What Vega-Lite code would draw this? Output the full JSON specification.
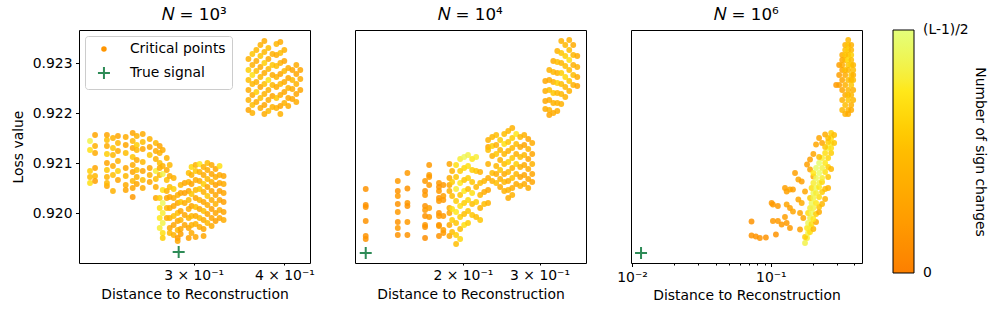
{
"$schema": "https://vega.github.io/schema/vega-lite/v6.json",
"padding": {"left": 10, "top": 6, "right": 5, "bottom": 5},
"config": {
  "font": "DejaVu Sans",
  "view": {"stroke": "black", "strokeWidth": 1},
  "axis": {"domain": false, "grid": false, "labelFont": "DejaVu Sans", "titleFont": "DejaVu Sans", "labelFontSize": 13.9, "titleFontSize": 13.9, "titleFontWeight": "normal", "labelColor": "black", "titleColor": "black", "tickColor": "black", "tickWidth": 1, "tickSize": 3.5, "labelPadding": 3.5, "titlePadding": 5, "labelOverlap": false, "labelFlush": false, "labelBound": false},
  "title": {"font": "DejaVu Sans", "fontSize": 16.7, "fontWeight": "normal", "color": "black", "offset": 6},
  "legend": {"labelFont": "DejaVu Sans", "titleFont": "DejaVu Sans", "labelColor": "black", "titleColor": "black"}
},
"datasets": {
"d1": [
{"x":0.2160,"y":0.92144,"c":0.85},{"x":0.2160,"y":0.92126,"c":0.7},{"x":0.2160,"y":0.92084,"c":0.6},{"x":0.2160,"y":0.92072,"c":0.5},{"x":0.2160,"y":0.9206,"c":0.7},
{"x":0.2195,"y":0.92156,"c":0.3},{"x":0.2195,"y":0.92134,"c":0.4},{"x":0.2195,"y":0.9212,"c":0.35},{"x":0.2195,"y":0.9209,"c":0.3},{"x":0.2195,"y":0.92074,"c":0.45},{"x":0.2195,"y":0.92064,"c":0.25},
{"x":0.2279,"y":0.92156,"c":0.3},{"x":0.2279,"y":0.92146,"c":0.5},{"x":0.2279,"y":0.92134,"c":0.35},{"x":0.2279,"y":0.92118,"c":0.6},{"x":0.2279,"y":0.921,"c":0.3},{"x":0.2279,"y":0.92086,"c":0.55},{"x":0.2279,"y":0.92072,"c":0.4},{"x":0.2279,"y":0.92054,"c":0.3},{"x":0.2279,"y":0.9206,"c":0.45},
{"x":0.2323,"y":0.9215,"c":0.4},{"x":0.2323,"y":0.9213,"c":0.55},{"x":0.2323,"y":0.92116,"c":0.45},{"x":0.2323,"y":0.92094,"c":0.35},{"x":0.2323,"y":0.92076,"c":0.5},{"x":0.2323,"y":0.92044,"c":0.4},
{"x":0.2360,"y":0.92154,"c":0.3},{"x":0.2360,"y":0.9214,"c":0.45},{"x":0.2360,"y":0.92124,"c":0.35},{"x":0.2360,"y":0.92104,"c":0.4},{"x":0.2360,"y":0.92084,"c":0.6},{"x":0.2360,"y":0.92066,"c":0.3},
{"x":0.2419,"y":0.92152,"c":0.35},{"x":0.2419,"y":0.92136,"c":0.3},{"x":0.2419,"y":0.9212,"c":0.5},{"x":0.2419,"y":0.9209,"c":0.3},{"x":0.2419,"y":0.92074,"c":0.45},{"x":0.2419,"y":0.92056,"c":0.35},{"x":0.2419,"y":0.92046,"c":0.3},
{"x":0.2473,"y":0.9216,"c":0.3},{"x":0.2473,"y":0.92144,"c":0.45},{"x":0.2473,"y":0.9213,"c":0.3},{"x":0.2473,"y":0.92112,"c":0.55},{"x":0.2473,"y":0.92096,"c":0.35},{"x":0.2473,"y":0.92082,"c":0.3},{"x":0.2473,"y":0.92064,"c":0.45},{"x":0.2473,"y":0.9205,"c":0.3},{"x":0.2473,"y":0.92032,"c":0.2},
{"x":0.2505,"y":0.92154,"c":0.4},{"x":0.2505,"y":0.92136,"c":0.6},{"x":0.2505,"y":0.92126,"c":0.45},{"x":0.2505,"y":0.92106,"c":0.35},{"x":0.2505,"y":0.92086,"c":0.5},{"x":0.2505,"y":0.92072,"c":0.4},{"x":0.2505,"y":0.92058,"c":0.3},
{"x":0.2553,"y":0.92158,"c":0.35},{"x":0.2553,"y":0.92142,"c":0.5},{"x":0.2553,"y":0.92128,"c":0.3},{"x":0.2553,"y":0.92102,"c":0.45},{"x":0.2553,"y":0.92084,"c":0.3},{"x":0.2553,"y":0.92066,"c":0.5},{"x":0.2553,"y":0.9205,"c":0.35},
{"x":0.2610,"y":0.92148,"c":0.4},{"x":0.2610,"y":0.92132,"c":0.3},{"x":0.2610,"y":0.92116,"c":0.55},{"x":0.2610,"y":0.9209,"c":0.3},{"x":0.2610,"y":0.92076,"c":0.4},{"x":0.2610,"y":0.92062,"c":0.3},
{"x":0.2661,"y":0.9214,"c":0.45},{"x":0.2661,"y":0.92124,"c":0.35},{"x":0.2661,"y":0.92108,"c":0.4},{"x":0.2661,"y":0.92084,"c":0.8},{"x":0.2661,"y":0.92068,"c":0.5},{"x":0.2661,"y":0.92052,"c":0.35},{"x":0.2661,"y":0.9203,"c":0.3},
{"x":0.2694,"y":0.92134,"c":0.3},{"x":0.2694,"y":0.9212,"c":0.4},{"x":0.2694,"y":0.921,"c":0.5},{"x":0.2694,"y":0.9209,"c":0.35},{"x":0.2694,"y":0.92076,"c":0.45},{"x":0.2694,"y":0.9203,"c":0.6},{"x":0.2694,"y":0.9201,"c":0.7},{"x":0.2694,"y":0.9199,"c":0.75},{"x":0.2694,"y":0.9197,"c":0.8},
{"x":0.2720,"y":0.92126,"c":0.35},{"x":0.2720,"y":0.92094,"c":0.4},{"x":0.2720,"y":0.92078,"c":0.85},{"x":0.2720,"y":0.92046,"c":0.7},{"x":0.2720,"y":0.9202,"c":0.9},{"x":0.2720,"y":0.92,"c":0.8},{"x":0.2720,"y":0.9198,"c":0.85},{"x":0.2720,"y":0.9196,"c":0.7},{"x":0.2720,"y":0.9195,"c":0.6},
{"x":0.2755,"y":0.9211,"c":0.4},{"x":0.2755,"y":0.92086,"c":0.35},{"x":0.2755,"y":0.92066,"c":0.5},{"x":0.2755,"y":0.92044,"c":0.4},{"x":0.2755,"y":0.9203,"c":0.3},{"x":0.2755,"y":0.9201,"c":0.45},{"x":0.2755,"y":0.9199,"c":0.35},
{"x":0.2781,"y":0.92096,"c":0.45},{"x":0.2781,"y":0.92074,"c":0.35},{"x":0.2781,"y":0.92052,"c":0.5},{"x":0.2781,"y":0.92032,"c":0.3},{"x":0.2781,"y":0.9201,"c":0.35},{"x":0.2781,"y":0.9199,"c":0.4},{"x":0.2781,"y":0.9197,"c":0.3},{"x":0.2781,"y":0.9196,"c":0.45},
{"x":0.2816,"y":0.9207,"c":0.4},{"x":0.2816,"y":0.92048,"c":0.6},{"x":0.2816,"y":0.9203,"c":0.35},{"x":0.2816,"y":0.92014,"c":0.3},{"x":0.2816,"y":0.91994,"c":0.5},{"x":0.2816,"y":0.91976,"c":0.3},{"x":0.2816,"y":0.91956,"c":0.4},
{"x":0.2852,"y":0.92036,"c":0.4},{"x":0.2852,"y":0.9202,"c":0.3},{"x":0.2852,"y":0.92,"c":0.5},{"x":0.2852,"y":0.91984,"c":0.3},{"x":0.2852,"y":0.91966,"c":0.45},{"x":0.2852,"y":0.9195,"c":0.2},{"x":0.2852,"y":0.91944,"c":0.3},
{"x":0.2879,"y":0.92056,"c":0.45},{"x":0.2879,"y":0.9204,"c":0.3},{"x":0.2879,"y":0.92022,"c":0.55},{"x":0.2879,"y":0.92004,"c":0.3},{"x":0.2879,"y":0.91986,"c":0.4},{"x":0.2879,"y":0.91968,"c":0.3},{"x":0.2879,"y":0.91958,"c":0.25},
{"x":0.2916,"y":0.9206,"c":0.3},{"x":0.2916,"y":0.9204,"c":0.25},{"x":0.2916,"y":0.9202,"c":0.35},{"x":0.2916,"y":0.91996,"c":0.3},{"x":0.2916,"y":0.91976,"c":0.3},
{"x":0.2953,"y":0.9208,"c":0.5},{"x":0.2953,"y":0.92062,"c":0.4},{"x":0.2953,"y":0.92044,"c":0.3},{"x":0.2953,"y":0.92026,"c":0.45},{"x":0.2953,"y":0.92008,"c":0.35},{"x":0.2953,"y":0.9199,"c":0.4},{"x":0.2953,"y":0.9197,"c":0.3},{"x":0.2953,"y":0.9195,"c":0.25},
{"x":0.2980,"y":0.92092,"c":0.65},{"x":0.2980,"y":0.92076,"c":0.4},{"x":0.2980,"y":0.92058,"c":0.3},{"x":0.2980,"y":0.92038,"c":0.55},{"x":0.2980,"y":0.92014,"c":0.3},{"x":0.2980,"y":0.91994,"c":0.45},{"x":0.2980,"y":0.91976,"c":0.4},{"x":0.2980,"y":0.9196,"c":0.35},
{"x":0.3019,"y":0.92096,"c":0.4},{"x":0.3019,"y":0.92084,"c":0.55},{"x":0.3019,"y":0.92066,"c":0.35},{"x":0.3019,"y":0.92046,"c":0.45},{"x":0.3019,"y":0.9203,"c":0.3},{"x":0.3019,"y":0.92012,"c":0.5},{"x":0.3019,"y":0.91994,"c":0.35},{"x":0.3019,"y":0.91978,"c":0.4},{"x":0.3019,"y":0.91952,"c":0.3},
{"x":0.3057,"y":0.92098,"c":0.75},{"x":0.3057,"y":0.92082,"c":0.4},{"x":0.3057,"y":0.92064,"c":0.35},{"x":0.3057,"y":0.92048,"c":0.55},{"x":0.3057,"y":0.92026,"c":0.4},{"x":0.3057,"y":0.92008,"c":0.3},{"x":0.3057,"y":0.9199,"c":0.45},{"x":0.3057,"y":0.91972,"c":0.35},
{"x":0.3096,"y":0.92092,"c":0.4},{"x":0.3096,"y":0.92076,"c":0.35},{"x":0.3096,"y":0.92058,"c":0.6},{"x":0.3096,"y":0.92042,"c":0.4},{"x":0.3096,"y":0.92022,"c":0.3},{"x":0.3096,"y":0.92004,"c":0.5},{"x":0.3096,"y":0.91986,"c":0.35},{"x":0.3096,"y":0.91968,"c":0.3},{"x":0.3096,"y":0.91954,"c":0.3},
{"x":0.3134,"y":0.921,"c":0.5},{"x":0.3134,"y":0.92086,"c":0.35},{"x":0.3134,"y":0.92068,"c":0.45},{"x":0.3134,"y":0.92052,"c":0.3},{"x":0.3134,"y":0.92034,"c":0.55},{"x":0.3134,"y":0.92016,"c":0.35},{"x":0.3134,"y":0.91998,"c":0.3},{"x":0.3134,"y":0.9198,"c":0.45},
{"x":0.3176,"y":0.92096,"c":0.35},{"x":0.3176,"y":0.92078,"c":0.3},{"x":0.3176,"y":0.92062,"c":0.4},{"x":0.3176,"y":0.92044,"c":0.3},{"x":0.3176,"y":0.92026,"c":0.35},{"x":0.3176,"y":0.92008,"c":0.25},{"x":0.3176,"y":0.9199,"c":0.3},{"x":0.3176,"y":0.91974,"c":0.35},
{"x":0.3216,"y":0.92088,"c":0.3},{"x":0.3216,"y":0.92072,"c":0.35},{"x":0.3216,"y":0.92056,"c":0.25},{"x":0.3216,"y":0.92036,"c":0.3},{"x":0.3216,"y":0.92018,"c":0.4},{"x":0.3216,"y":0.92,"c":0.3},{"x":0.3216,"y":0.91984,"c":0.25},
{"x":0.3257,"y":0.92094,"c":0.7},{"x":0.3257,"y":0.92076,"c":0.35},{"x":0.3257,"y":0.9206,"c":0.3},{"x":0.3257,"y":0.92044,"c":0.25},{"x":0.3257,"y":0.92026,"c":0.3},{"x":0.3257,"y":0.92006,"c":0.35},{"x":0.3257,"y":0.9199,"c":0.3},
{"x":0.3299,"y":0.92074,"c":0.3},{"x":0.3299,"y":0.92058,"c":0.35},{"x":0.3299,"y":0.9204,"c":0.3},{"x":0.3299,"y":0.92022,"c":0.25},{"x":0.3299,"y":0.92002,"c":0.3},{"x":0.3299,"y":0.91986,"c":0.35},
{"x":0.3569,"y":0.92308,"c":0.4},{"x":0.3569,"y":0.92286,"c":0.6},{"x":0.3569,"y":0.92266,"c":0.5},{"x":0.3569,"y":0.92246,"c":0.35},{"x":0.3569,"y":0.92226,"c":0.4},{"x":0.3569,"y":0.92206,"c":0.3},
{"x":0.3614,"y":0.92318,"c":0.55},{"x":0.3614,"y":0.92296,"c":0.4},{"x":0.3614,"y":0.92276,"c":0.7},{"x":0.3614,"y":0.92258,"c":0.45},{"x":0.3614,"y":0.92236,"c":0.35},{"x":0.3614,"y":0.92216,"c":0.5},{"x":0.3614,"y":0.922,"c":0.4},
{"x":0.3660,"y":0.92326,"c":0.45},{"x":0.3660,"y":0.92304,"c":0.35},{"x":0.3660,"y":0.92284,"c":0.5},{"x":0.3660,"y":0.92262,"c":0.4},{"x":0.3660,"y":0.92242,"c":0.6},{"x":0.3660,"y":0.92222,"c":0.35},
{"x":0.3707,"y":0.92336,"c":0.4},{"x":0.3707,"y":0.92314,"c":0.55},{"x":0.3707,"y":0.92292,"c":0.35},{"x":0.3707,"y":0.92272,"c":0.45},{"x":0.3707,"y":0.92252,"c":0.3},{"x":0.3707,"y":0.9223,"c":0.5},{"x":0.3707,"y":0.9221,"c":0.35},
{"x":0.3754,"y":0.92344,"c":0.35},{"x":0.3754,"y":0.92322,"c":0.45},{"x":0.3754,"y":0.923,"c":0.6},{"x":0.3754,"y":0.9228,"c":0.35},{"x":0.3754,"y":0.92258,"c":0.5},{"x":0.3754,"y":0.92238,"c":0.4},{"x":0.3754,"y":0.92216,"c":0.3},{"x":0.3754,"y":0.92198,"c":0.35},
{"x":0.3802,"y":0.9233,"c":0.5},{"x":0.3802,"y":0.92308,"c":0.35},{"x":0.3802,"y":0.92288,"c":0.45},{"x":0.3802,"y":0.92266,"c":0.7},{"x":0.3802,"y":0.92246,"c":0.4},{"x":0.3802,"y":0.92226,"c":0.35},{"x":0.3802,"y":0.92204,"c":0.45},
{"x":0.3851,"y":0.92318,"c":0.4},{"x":0.3851,"y":0.92296,"c":0.55},{"x":0.3851,"y":0.92276,"c":0.35},{"x":0.3851,"y":0.92256,"c":0.45},{"x":0.3851,"y":0.92234,"c":0.3},{"x":0.3851,"y":0.92212,"c":0.4},
{"x":0.3900,"y":0.92338,"c":0.45},{"x":0.3900,"y":0.92316,"c":0.35},{"x":0.3900,"y":0.92294,"c":0.5},{"x":0.3900,"y":0.92272,"c":0.4},{"x":0.3900,"y":0.92252,"c":0.35},{"x":0.3900,"y":0.9223,"c":0.55},{"x":0.3900,"y":0.9221,"c":0.4},
{"x":0.3949,"y":0.92342,"c":0.35},{"x":0.3949,"y":0.9232,"c":0.5},{"x":0.3949,"y":0.923,"c":0.4},{"x":0.3949,"y":0.92278,"c":0.3},{"x":0.3949,"y":0.92258,"c":0.45},{"x":0.3949,"y":0.92236,"c":0.35},{"x":0.3949,"y":0.92214,"c":0.3},{"x":0.3949,"y":0.92198,"c":0.4},
{"x":0.3999,"y":0.92326,"c":0.4},{"x":0.3999,"y":0.92304,"c":0.3},{"x":0.3999,"y":0.92284,"c":0.45},{"x":0.3999,"y":0.92262,"c":0.35},{"x":0.3999,"y":0.92242,"c":0.3},{"x":0.3999,"y":0.9222,"c":0.4},
{"x":0.4049,"y":0.9229,"c":0.35},{"x":0.4049,"y":0.9227,"c":0.3},{"x":0.4049,"y":0.9225,"c":0.4},{"x":0.4049,"y":0.9223,"c":0.3},{"x":0.4049,"y":0.92214,"c":0.35},
{"x":0.4102,"y":0.92286,"c":0.3},{"x":0.4102,"y":0.92266,"c":0.45},{"x":0.4102,"y":0.92248,"c":0.35},{"x":0.4102,"y":0.92228,"c":0.3},
{"x":0.4154,"y":0.92296,"c":0.35},{"x":0.4154,"y":0.92278,"c":0.3},{"x":0.4154,"y":0.92258,"c":0.4},{"x":0.4154,"y":0.92238,"c":0.3},{"x":0.4154,"y":0.92222,"c":0.35},
{"x":0.4207,"y":0.92286,"c":0.3},{"x":0.4207,"y":0.92268,"c":0.35},{"x":0.4207,"y":0.92246,"c":0.3}
],
"d2": [
{"x":0.1197,"y":0.92048,"c":0.15},{"x":0.1197,"y":0.92016,"c":0.15},{"x":0.1197,"y":0.92012,"c":0.15},{"x":0.1197,"y":0.91984,"c":0.15},{"x":0.1197,"y":0.91954,"c":0.15},{"x":0.1197,"y":0.91948,"c":0.15},
{"x":0.1418,"y":0.92064,"c":0.2},{"x":0.1418,"y":0.92044,"c":0.15},{"x":0.1418,"y":0.92034,"c":0.2},{"x":0.1418,"y":0.92018,"c":0.15},{"x":0.1418,"y":0.92002,"c":0.2},{"x":0.1418,"y":0.91982,"c":0.15},{"x":0.1418,"y":0.9197,"c":0.2},{"x":0.1418,"y":0.91956,"c":0.15},
{"x":0.1492,"y":0.9208,"c":0.2},{"x":0.1492,"y":0.92049,"c":0.15},{"x":0.1492,"y":0.9202,"c":0.2},{"x":0.1492,"y":0.92014,"c":0.15},{"x":0.1492,"y":0.91982,"c":0.2},{"x":0.1492,"y":0.91956,"c":0.15},
{"x":0.1638,"y":0.92064,"c":0.2},{"x":0.1638,"y":0.92044,"c":0.15},{"x":0.1638,"y":0.92036,"c":0.2},{"x":0.1638,"y":0.92014,"c":0.15},{"x":0.1638,"y":0.92006,"c":0.2},{"x":0.1638,"y":0.91994,"c":0.15},{"x":0.1638,"y":0.91976,"c":0.2},{"x":0.1638,"y":0.91972,"c":0.15},{"x":0.1638,"y":0.9195,"c":0.1},
{"x":0.1674,"y":0.92096,"c":0.2},{"x":0.1674,"y":0.92076,"c":0.25},{"x":0.1674,"y":0.92072,"c":0.2},{"x":0.1674,"y":0.92056,"c":0.2},{"x":0.1674,"y":0.9201,"c":0.25},{"x":0.1674,"y":0.91992,"c":0.2},
{"x":0.1763,"y":0.9206,"c":0.2},{"x":0.1763,"y":0.92052,"c":0.15},{"x":0.1763,"y":0.92044,"c":0.2},{"x":0.1763,"y":0.9203,"c":0.15},{"x":0.1763,"y":0.92024,"c":0.2},{"x":0.1763,"y":0.92,"c":0.15},{"x":0.1763,"y":0.91994,"c":0.2},{"x":0.1763,"y":0.91976,"c":0.15},{"x":0.1763,"y":0.91974,"c":0.2},{"x":0.1763,"y":0.91954,"c":0.15},
{"x":0.1804,"y":0.92056,"c":0.2},{"x":0.1804,"y":0.92034,"c":0.25},{"x":0.1804,"y":0.92026,"c":0.2},{"x":0.1804,"y":0.91994,"c":0.2},{"x":0.1804,"y":0.91966,"c":0.25},{"x":0.1804,"y":0.9196,"c":0.2},
{"x":0.1863,"y":0.92098,"c":0.3},{"x":0.1863,"y":0.9207,"c":0.35},{"x":0.1863,"y":0.92056,"c":0.3},{"x":0.1863,"y":0.92044,"c":0.4},{"x":0.1863,"y":0.9201,"c":0.35},{"x":0.1863,"y":0.92,"c":0.3},{"x":0.1863,"y":0.91976,"c":0.35},{"x":0.1863,"y":0.91954,"c":0.3},
{"x":0.1890,"y":0.92084,"c":0.4},{"x":0.1890,"y":0.92062,"c":0.6},{"x":0.1890,"y":0.92034,"c":0.5},{"x":0.1890,"y":0.92008,"c":0.7},{"x":0.1890,"y":0.91986,"c":0.6},{"x":0.1890,"y":0.91962,"c":0.5},
{"x":0.1930,"y":0.92096,"c":0.7},{"x":0.1930,"y":0.92072,"c":0.55},{"x":0.1930,"y":0.92048,"c":0.8},{"x":0.1930,"y":0.92024,"c":0.6},{"x":0.1930,"y":0.92002,"c":0.75},{"x":0.1930,"y":0.9198,"c":0.55},{"x":0.1930,"y":0.91956,"c":0.6},{"x":0.1930,"y":0.91938,"c":0.5},
{"x":0.1972,"y":0.92108,"c":0.8},{"x":0.1972,"y":0.92084,"c":0.6},{"x":0.1972,"y":0.9206,"c":0.75},{"x":0.1972,"y":0.92036,"c":0.55},{"x":0.1972,"y":0.92014,"c":0.7},{"x":0.1972,"y":0.91992,"c":0.6},{"x":0.1972,"y":0.91968,"c":0.5},{"x":0.1972,"y":0.91948,"c":0.65},
{"x":0.2014,"y":0.92112,"c":0.9},{"x":0.2014,"y":0.9209,"c":0.65},{"x":0.2014,"y":0.92066,"c":0.55},{"x":0.2014,"y":0.92044,"c":0.75},{"x":0.2014,"y":0.9202,"c":0.6},{"x":0.2014,"y":0.91998,"c":0.5},{"x":0.2014,"y":0.91976,"c":0.7},
{"x":0.2056,"y":0.92116,"c":0.85},{"x":0.2056,"y":0.92094,"c":0.7},{"x":0.2056,"y":0.9207,"c":0.6},{"x":0.2056,"y":0.92048,"c":0.5},{"x":0.2056,"y":0.92026,"c":0.65},{"x":0.2056,"y":0.92004,"c":0.55},{"x":0.2056,"y":0.9198,"c":0.6},
{"x":0.2101,"y":0.92108,"c":0.75},{"x":0.2101,"y":0.92086,"c":0.6},{"x":0.2101,"y":0.92062,"c":0.55},{"x":0.2101,"y":0.9204,"c":0.7},{"x":0.2101,"y":0.92018,"c":0.5},{"x":0.2101,"y":0.91996,"c":0.55},
{"x":0.2146,"y":0.92112,"c":0.8},{"x":0.2146,"y":0.92084,"c":0.55},{"x":0.2146,"y":0.92052,"c":0.45},{"x":0.2146,"y":0.92022,"c":0.6},{"x":0.2146,"y":0.91992,"c":0.5},
{"x":0.2192,"y":0.92082,"c":0.4},{"x":0.2192,"y":0.9206,"c":0.5},{"x":0.2192,"y":0.92036,"c":0.45},{"x":0.2192,"y":0.9201,"c":0.4},{"x":0.2192,"y":0.91986,"c":0.55},
{"x":0.2239,"y":0.92064,"c":0.45},{"x":0.2239,"y":0.92042,"c":0.35},{"x":0.2239,"y":0.92018,"c":0.5},
{"x":0.2286,"y":0.92132,"c":0.3},{"x":0.2286,"y":0.92098,"c":0.4},{"x":0.2286,"y":0.9207,"c":0.35},{"x":0.2286,"y":0.92046,"c":0.3},{"x":0.2286,"y":0.9202,"c":0.4},{"x":0.2286,"y":0.92146,"c":0.4},{"x":0.2286,"y":0.92126,"c":0.5},
{"x":0.2336,"y":0.92152,"c":0.45},{"x":0.2336,"y":0.92134,"c":0.6},{"x":0.2336,"y":0.92114,"c":0.4},{"x":0.2336,"y":0.9208,"c":0.5},{"x":0.2336,"y":0.92064,"c":0.4},
{"x":0.2386,"y":0.92156,"c":0.5},{"x":0.2386,"y":0.92136,"c":0.4},{"x":0.2386,"y":0.92118,"c":0.55},{"x":0.2386,"y":0.92094,"c":0.45},{"x":0.2386,"y":0.92078,"c":0.35},{"x":0.2386,"y":0.9206,"c":0.5},
{"x":0.2436,"y":0.92146,"c":0.6},{"x":0.2436,"y":0.92126,"c":0.45},{"x":0.2436,"y":0.92106,"c":0.4},{"x":0.2436,"y":0.92086,"c":0.55},{"x":0.2436,"y":0.92068,"c":0.4},{"x":0.2436,"y":0.92052,"c":0.35},
{"x":0.2489,"y":0.92158,"c":0.5},{"x":0.2489,"y":0.92138,"c":0.7},{"x":0.2489,"y":0.92118,"c":0.45},{"x":0.2489,"y":0.92098,"c":0.5},{"x":0.2489,"y":0.92078,"c":0.35},{"x":0.2489,"y":0.92062,"c":0.45},{"x":0.2489,"y":0.92044,"c":0.4},
{"x":0.2542,"y":0.92164,"c":0.45},{"x":0.2542,"y":0.92142,"c":0.55},{"x":0.2542,"y":0.92124,"c":0.4},{"x":0.2542,"y":0.92102,"c":0.6},{"x":0.2542,"y":0.92082,"c":0.45},{"x":0.2542,"y":0.92064,"c":0.35},{"x":0.2542,"y":0.92046,"c":0.4},{"x":0.2542,"y":0.9203,"c":0.35},
{"x":0.2597,"y":0.9217,"c":0.4},{"x":0.2597,"y":0.9215,"c":0.6},{"x":0.2597,"y":0.9213,"c":0.45},{"x":0.2597,"y":0.9211,"c":0.55},{"x":0.2597,"y":0.9209,"c":0.4},{"x":0.2597,"y":0.9207,"c":0.5},{"x":0.2597,"y":0.9205,"c":0.35},{"x":0.2597,"y":0.92036,"c":0.4},
{"x":0.2652,"y":0.92158,"c":0.75},{"x":0.2652,"y":0.92138,"c":0.5},{"x":0.2652,"y":0.92118,"c":0.4},{"x":0.2652,"y":0.92098,"c":0.6},{"x":0.2652,"y":0.92078,"c":0.45},{"x":0.2652,"y":0.92058,"c":0.35},
{"x":0.2709,"y":0.92152,"c":0.45},{"x":0.2709,"y":0.92132,"c":0.35},{"x":0.2709,"y":0.92112,"c":0.5},{"x":0.2709,"y":0.92092,"c":0.4},{"x":0.2709,"y":0.92072,"c":0.3},{"x":0.2709,"y":0.92054,"c":0.4},
{"x":0.2767,"y":0.92156,"c":0.4},{"x":0.2767,"y":0.92136,"c":0.3},{"x":0.2767,"y":0.92116,"c":0.45},{"x":0.2767,"y":0.92096,"c":0.35},{"x":0.2767,"y":0.92076,"c":0.3},{"x":0.2767,"y":0.92058,"c":0.35},
{"x":0.2826,"y":0.92148,"c":0.3},{"x":0.2826,"y":0.92128,"c":0.4},{"x":0.2826,"y":0.92108,"c":0.3},{"x":0.2826,"y":0.92088,"c":0.35},{"x":0.2826,"y":0.92068,"c":0.3},{"x":0.2826,"y":0.9205,"c":0.35},
{"x":0.2886,"y":0.9214,"c":0.35},{"x":0.2886,"y":0.92118,"c":0.3},{"x":0.2886,"y":0.92098,"c":0.4},{"x":0.2886,"y":0.92078,"c":0.3},{"x":0.2886,"y":0.92062,"c":0.3},
{"x":0.3092,"y":0.92264,"c":0.3},{"x":0.3092,"y":0.92244,"c":0.35},{"x":0.3092,"y":0.92224,"c":0.3},{"x":0.3092,"y":0.92208,"c":0.35},
{"x":0.3158,"y":0.92286,"c":0.4},{"x":0.3158,"y":0.92266,"c":0.35},{"x":0.3158,"y":0.92246,"c":0.5},{"x":0.3158,"y":0.92226,"c":0.35},{"x":0.3158,"y":0.92206,"c":0.4},{"x":0.3158,"y":0.92196,"c":0.3},
{"x":0.3226,"y":0.92304,"c":0.35},{"x":0.3226,"y":0.92282,"c":0.45},{"x":0.3226,"y":0.92262,"c":0.4},{"x":0.3226,"y":0.9224,"c":0.55},{"x":0.3226,"y":0.9222,"c":0.4},{"x":0.3226,"y":0.922,"c":0.35},
{"x":0.3295,"y":0.92324,"c":0.4},{"x":0.3295,"y":0.92302,"c":0.5},{"x":0.3295,"y":0.9228,"c":0.4},{"x":0.3295,"y":0.9226,"c":0.6},{"x":0.3295,"y":0.9224,"c":0.45},{"x":0.3295,"y":0.9222,"c":0.4},{"x":0.3295,"y":0.92204,"c":0.35},
{"x":0.3365,"y":0.92344,"c":0.4},{"x":0.3365,"y":0.9232,"c":0.55},{"x":0.3365,"y":0.923,"c":0.45},{"x":0.3365,"y":0.9228,"c":0.6},{"x":0.3365,"y":0.92258,"c":0.5},{"x":0.3365,"y":0.92238,"c":0.45},{"x":0.3365,"y":0.92218,"c":0.4},
{"x":0.3437,"y":0.92336,"c":0.45},{"x":0.3437,"y":0.92314,"c":0.6},{"x":0.3437,"y":0.92294,"c":0.5},{"x":0.3437,"y":0.92272,"c":0.65},{"x":0.3437,"y":0.92252,"c":0.45},{"x":0.3437,"y":0.92232,"c":0.4},
{"x":0.3510,"y":0.92346,"c":0.4},{"x":0.3510,"y":0.92326,"c":0.5},{"x":0.3510,"y":0.92306,"c":0.7},{"x":0.3510,"y":0.92286,"c":0.5},{"x":0.3510,"y":0.92264,"c":0.55},{"x":0.3510,"y":0.92244,"c":0.4},
{"x":0.3585,"y":0.92336,"c":0.35},{"x":0.3585,"y":0.92316,"c":0.45},{"x":0.3585,"y":0.92296,"c":0.4},{"x":0.3585,"y":0.92276,"c":0.5},{"x":0.3585,"y":0.92256,"c":0.4},
{"x":0.3662,"y":0.92314,"c":0.35},{"x":0.3662,"y":0.92292,"c":0.4},{"x":0.3662,"y":0.92272,"c":0.35},{"x":0.3662,"y":0.92254,"c":0.3}
],
"d3": [
{"x":0.07253,"y":0.91983,"c":0.15},{"x":0.07253,"y":0.91955,"c":0.15},{"x":0.0779,"y":0.91953,"c":0.15},{"x":0.08327,"y":0.9195,"c":0.15},{"x":0.09203,"y":0.91951,"c":0.15},{"x":0.1087,"y":0.91957,"c":0.15},
{"x":0.1012,"y":0.9202,"c":0.2},{"x":0.1034,"y":0.92017,"c":0.2},{"x":0.1123,"y":0.92014,"c":0.2},{"x":0.1034,"y":0.91984,"c":0.2},{"x":0.1123,"y":0.91984,"c":0.2},{"x":0.1195,"y":0.91977,"c":0.2},
{"x":0.1263,"y":0.91992,"c":0.25},{"x":0.1299,"y":0.9198,"c":0.2},{"x":0.1372,"y":0.9197,"c":0.2},{"x":0.1621,"y":0.91967,"c":0.25},{"x":0.1263,"y":0.9205,"c":0.25},{"x":0.1299,"y":0.92043,"c":0.25},
{"x":0.1372,"y":0.92047,"c":0.3},{"x":0.1442,"y":0.92047,"c":0.25},{"x":0.1299,"y":0.92017,"c":0.3},{"x":0.1372,"y":0.9201,"c":0.25},{"x":0.1442,"y":0.92003,"c":0.3},{"x":0.1492,"y":0.9208,"c":0.25},
{"x":0.1576,"y":0.92067,"c":0.3},{"x":0.1667,"y":0.92063,"c":0.25},{"x":0.1761,"y":0.92043,"c":0.3},{"x":0.1576,"y":0.92027,"c":0.3},{"x":0.1667,"y":0.9202,"c":0.35},{"x":0.1712,"y":0.9199,"c":0.3},
{"x":0.1914,"y":0.92107,"c":0.25},{"x":0.1914,"y":0.92087,"c":0.3},{"x":0.2022,"y":0.92073,"c":0.35},{"x":0.1621,"y":0.92,"c":0.3},{"x":0.1821,"y":0.92097,"c":0.25},{"x":0.2022,"y":0.92118,"c":0.3},
{"x":0.2115,"y":0.92137,"c":0.3},{"x":0.2224,"y":0.9215,"c":0.3},{"x":0.2458,"y":0.92157,"c":0.35},{"x":0.2338,"y":0.9214,"c":0.3},
{"x":0.1761,"y":0.9194,"c":0.85},{"x":0.1821,"y":0.9195,"c":0.8},{"x":0.1761,"y":0.91952,"c":0.6},{"x":0.1852,"y":0.9196,"c":0.85},{"x":0.1914,"y":0.91962,"c":0.7},
{"x":0.1821,"y":0.9197,"c":0.75},{"x":0.1914,"y":0.91972,"c":0.8},{"x":0.2022,"y":0.91968,"c":0.45},{"x":0.1852,"y":0.9198,"c":0.9},{"x":0.1963,"y":0.91978,"c":0.7},{"x":0.2115,"y":0.91982,"c":0.35},
{"x":0.1914,"y":0.9199,"c":0.85},{"x":0.2022,"y":0.91988,"c":0.75},{"x":0.1852,"y":0.92,"c":0.7},{"x":0.1963,"y":0.92,"c":0.9},{"x":0.2115,"y":0.91998,"c":0.6},{"x":0.2224,"y":0.92002,"c":0.35},
{"x":0.1914,"y":0.9201,"c":0.8},{"x":0.2022,"y":0.9201,"c":0.85},{"x":0.2224,"y":0.92012,"c":0.55},{"x":0.1963,"y":0.9202,"c":0.9},{"x":0.2115,"y":0.9202,"c":0.75},{"x":0.2338,"y":0.92018,"c":0.45},
{"x":0.1914,"y":0.9203,"c":0.6},{"x":0.2022,"y":0.9203,"c":0.85},{"x":0.2224,"y":0.92032,"c":0.7},{"x":0.2458,"y":0.92028,"c":0.4},{"x":0.2022,"y":0.9204,"c":0.9},{"x":0.2115,"y":0.9204,"c":0.8},{"x":0.2338,"y":0.92042,"c":0.6},
{"x":0.1963,"y":0.9205,"c":0.7},{"x":0.2115,"y":0.9205,"c":0.9},{"x":0.2224,"y":0.92052,"c":0.75},{"x":0.2458,"y":0.92048,"c":0.5},{"x":0.2584,"y":0.9205,"c":0.4},
{"x":0.2022,"y":0.9206,"c":0.8},{"x":0.2224,"y":0.9206,"c":0.85},{"x":0.2338,"y":0.92062,"c":0.65},{"x":0.2115,"y":0.9207,"c":0.9},{"x":0.2338,"y":0.9207,"c":0.8},{"x":0.2584,"y":0.92072,"c":0.55},
{"x":0.2022,"y":0.9208,"c":0.75},{"x":0.2224,"y":0.9208,"c":0.95},{"x":0.2458,"y":0.92082,"c":0.7},{"x":0.2115,"y":0.9209,"c":0.95},{"x":0.2338,"y":0.9209,"c":0.85},{"x":0.2584,"y":0.92092,"c":0.6},{"x":0.2716,"y":0.92088,"c":0.45},
{"x":0.2224,"y":0.921,"c":0.95},{"x":0.2458,"y":0.921,"c":0.75},{"x":0.2338,"y":0.9211,"c":0.8},{"x":0.2584,"y":0.9211,"c":0.65},{"x":0.2224,"y":0.92112,"c":0.5},
{"x":0.2458,"y":0.9212,"c":0.7},{"x":0.2716,"y":0.9212,"c":0.6},{"x":0.2584,"y":0.9213,"c":0.85},{"x":0.2716,"y":0.9213,"c":0.7},{"x":0.2458,"y":0.92132,"c":0.55},
{"x":0.2716,"y":0.9214,"c":0.8},{"x":0.2855,"y":0.9214,"c":0.55},{"x":0.2584,"y":0.92142,"c":0.6},{"x":0.2716,"y":0.9215,"c":0.7},{"x":0.2584,"y":0.9215,"c":0.5},{"x":0.2716,"y":0.9216,"c":0.6},{"x":0.2855,"y":0.92156,"c":0.5},
{"x":0.3604,"y":0.92346,"c":0.45},{"x":0.3428,"y":0.92336,"c":0.4},{"x":0.3604,"y":0.92336,"c":0.55},{"x":0.3789,"y":0.92336,"c":0.4},
{"x":0.3428,"y":0.92326,"c":0.5},{"x":0.3604,"y":0.92326,"c":0.6},{"x":0.3789,"y":0.92326,"c":0.45},
{"x":0.3262,"y":0.92316,"c":0.35},{"x":0.3428,"y":0.92316,"c":0.55},{"x":0.3604,"y":0.92316,"c":0.5},{"x":0.3789,"y":0.92316,"c":0.6},
{"x":0.3262,"y":0.92306,"c":0.3},{"x":0.3428,"y":0.92306,"c":0.45},{"x":0.3604,"y":0.92306,"c":0.7},{"x":0.3789,"y":0.92306,"c":0.5},
{"x":0.3101,"y":0.92296,"c":0.25},{"x":0.3262,"y":0.92296,"c":0.35},{"x":0.3604,"y":0.92296,"c":0.55},{"x":0.3789,"y":0.92296,"c":0.6},{"x":0.3917,"y":0.92296,"c":0.45},
{"x":0.3262,"y":0.92286,"c":0.3},{"x":0.3428,"y":0.92286,"c":0.5},{"x":0.3604,"y":0.92286,"c":0.45},{"x":0.3917,"y":0.92286,"c":0.5},
{"x":0.3101,"y":0.92276,"c":0.25},{"x":0.3428,"y":0.92276,"c":0.35},{"x":0.3789,"y":0.92276,"c":0.55},{"x":0.3917,"y":0.92276,"c":0.4},
{"x":0.3262,"y":0.92266,"c":0.3},{"x":0.3604,"y":0.92266,"c":0.5},{"x":0.3789,"y":0.92266,"c":0.45},{"x":0.3917,"y":0.92266,"c":0.5},
{"x":0.2951,"y":0.92256,"c":0.2},{"x":0.3101,"y":0.92256,"c":0.25},{"x":0.3428,"y":0.92256,"c":0.4},{"x":0.3789,"y":0.92256,"c":0.55},
{"x":0.3262,"y":0.92246,"c":0.3},{"x":0.3604,"y":0.92246,"c":0.45},{"x":0.3917,"y":0.92246,"c":0.4},
{"x":0.3428,"y":0.92236,"c":0.35},{"x":0.3604,"y":0.92236,"c":0.5},{"x":0.3789,"y":0.92236,"c":0.45},
{"x":0.3262,"y":0.92226,"c":0.4},{"x":0.3604,"y":0.92226,"c":0.55},{"x":0.3917,"y":0.92226,"c":0.45},
{"x":0.3428,"y":0.92216,"c":0.5},{"x":0.3789,"y":0.92216,"c":0.4},{"x":0.3262,"y":0.92206,"c":0.45},{"x":0.3604,"y":0.92206,"c":0.45},{"x":0.3789,"y":0.92206,"c":0.35},
{"x":0.3428,"y":0.92198,"c":0.4},{"x":0.3604,"y":0.92198,"c":0.35}
],
"t1": [{"x":0.2861,"y":0.91922}],
"t2": [{"x":0.1197,"y":0.9192}],
"t3": [{"x":0.01161,"y":0.9192}]
},
"spacing": 45,
"bounds": "flush",
"resolve": {"scale": {"shape": "independent"}, "legend": {"shape": "independent"}},
"hconcat": [
{
 "width": 231, "height": 233,
 "title": {"text": "𝑁 = 10³"},
 "layer": [
  {
   "data": {"name": "d1"},
   "mark": {"type": "point", "filled": true, "size": 34, "fillOpacity": 0.85, "strokeWidth": 0},
   "encoding": {
    "x": {"field": "x", "type": "quantitative", "scale": {"type": "log", "domain": [0.2086, 0.4338], "nice": false}, "axis": {"values": [0.3, 0.4], "labelExpr": "datum.value < 0.35 ? '3 × 10⁻¹' : '4 × 10⁻¹'", "tickSize": 2, "title": "Distance to Reconstruction"}},
    "y": {"field": "y", "type": "quantitative", "scale": {"domain": [0.919, 0.92366], "nice": false, "zero": false}, "axis": {"values": [0.92, 0.921, 0.922, 0.923], "format": ".3f", "title": "Loss value", "titlePadding": 7}},
    "color": {"field": "c", "type": "quantitative", "scale": {"domain": [0, 0.25, 0.5, 0.75, 1], "range": ["#fc7f00", "#ffa000", "#ffbd00", "#ffe81a", "#e4ff7a"]},
      "legend": {"title": "Number of sign changes", "orient": "right", "offset": 30, "values": [0.0005, 0.9995], "labelExpr": "datum.value < 0.5 ? '0' : '(L-1)/2'", "gradientLength": 243, "gradientThickness": 21, "gradientStrokeColor": "black", "gradientStrokeWidth": 1, "gradientOpacity": 1, "titleOrient": "right", "titleAnchor": "middle", "labelOffset": 9, "labelFontSize": 13.9, "titleFontSize": 13.9, "titleFontWeight": "normal", "titlePadding": 4,
        "encode": {"title": {"angle": {"value": -90}}}}},
    "shape": {"datum": "Critical points", "type": "nominal", "scale": {"domain": ["Critical points", "True signal"], "range": ["circle", "M-1,0L1,0M0,-1L0,1"]},
      "legend": {"title": null, "orient": "top-left", "offset": 6, "padding": 6, "rowPadding": 6, "fillColor": "white", "strokeColor": "#cccccc", "cornerRadius": 3, "labelFontSize": 13.9, "labelOffset": 19, "symbolOffset": 6, "symbolOpacity": 1,
        "symbolFillColor": {"expr": "datum.value === 'True signal' ? 'transparent' : '#ff9500'"},
        "symbolStrokeColor": {"expr": "datum.value === 'True signal' ? '#2e8b57' : 'transparent'"},
        "symbolStrokeWidth": 2,
        "symbolSize": {"expr": "datum.value === 'True signal' ? 144 : 30"}}}
   }
  },
  {
   "data": {"name": "t1"},
   "mark": {"type": "point", "shape": "M-1,0L1,0M0,-1L0,1", "filled": false, "stroke": "#2e8b57", "strokeWidth": 2, "size": 144, "opacity": 1},
   "encoding": {"x": {"field": "x", "type": "quantitative"}, "y": {"field": "y", "type": "quantitative"}}
  }
 ]
},
{
 "width": 231, "height": 233,
 "title": {"text": "𝑁 = 10⁴"},
 "layer": [
  {
   "data": {"name": "d2"},
   "mark": {"type": "circle", "size": 34, "fillOpacity": 0.85},
   "encoding": {
    "x": {"field": "x", "type": "quantitative", "scale": {"type": "log", "domain": [0.1131, 0.3835], "nice": false}, "axis": {"values": [0.2, 0.3], "labelExpr": "datum.value < 0.25 ? '2 × 10⁻¹' : '3 × 10⁻¹'", "tickSize": 2, "title": "Distance to Reconstruction"}},
    "y": {"field": "y", "type": "quantitative", "scale": {"domain": [0.919, 0.92366], "nice": false, "zero": false}, "axis": null},
    "color": {"field": "c", "type": "quantitative"}
   }
  },
  {
   "data": {"name": "t2"},
   "mark": {"type": "point", "shape": "M-1,0L1,0M0,-1L0,1", "filled": false, "stroke": "#2e8b57", "strokeWidth": 2, "size": 144, "opacity": 1},
   "encoding": {"x": {"field": "x", "type": "quantitative"}, "y": {"field": "y", "type": "quantitative"}}
  }
 ]
},
{
 "width": 231, "height": 233,
 "title": {"text": "𝑁 = 10⁶"},
 "layer": [
  {
   "data": {"name": "d3"},
   "mark": {"type": "circle", "size": 34, "fillOpacity": 0.85},
   "encoding": {
    "x": {"field": "x", "type": "quantitative", "scale": {"type": "log", "domain": [0.00983, 0.453], "nice": false}, "axis": {"values": [0.01, 0.02, 0.03, 0.04, 0.05, 0.06, 0.07, 0.08, 0.09, 0.1, 0.2, 0.3, 0.4], "labelExpr": "datum.value == 0.01 ? '10⁻²' : datum.value == 0.1 ? '10⁻¹' : ''", "tickSize": {"condition": {"test": "datum.value == 0.01 || datum.value == 0.1", "value": 3.5}, "value": 2}, "title": "Distance to Reconstruction"}},
    "y": {"field": "y", "type": "quantitative", "scale": {"domain": [0.919, 0.92366], "nice": false, "zero": false}, "axis": null},
    "color": {"field": "c", "type": "quantitative"}
   }
  },
  {
   "data": {"name": "t3"},
   "mark": {"type": "point", "shape": "M-1,0L1,0M0,-1L0,1", "filled": false, "stroke": "#2e8b57", "strokeWidth": 2, "size": 144, "opacity": 1},
   "encoding": {"x": {"field": "x", "type": "quantitative"}, "y": {"field": "y", "type": "quantitative"}}
  }
 ]
}
]
}
